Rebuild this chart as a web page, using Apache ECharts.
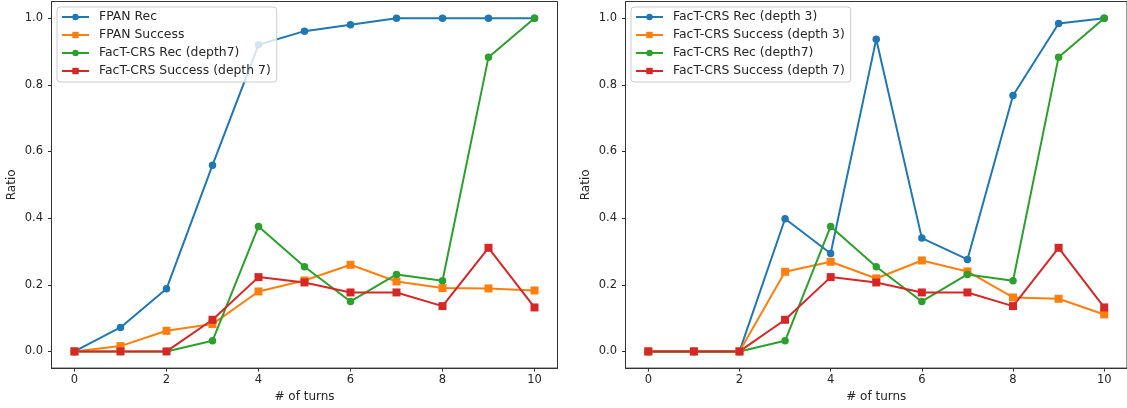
<!DOCTYPE html>
<html>
<head>
<meta charset="utf-8">
<script src="https://cdn.jsdelivr.net/npm/echarts@6/dist/echarts.min.js"></script>
<style>
html,body{margin:0;padding:0;background:#fff;}
#c{width:1127px;height:408px;}
</style>
</head>
<body>
<div id="c"></div>
<script>
var turns = [0,1,2,3,4,5,6,7,8,9,10];
var xTicks = [0,2,4,6,8,10];
var yTicks = [0,0.2,0.4,0.6,0.8,1.0];

var fpanRec = [0,0.072,0.188,0.559,0.920,0.961,0.980,1.0,1.0,1.0,1.0];
var fpanSuccess = [0,0.016,0.062,0.082,0.180,0.213,0.260,0.210,0.190,0.189,0.183];
var factRec7 = [0,0,0,0.032,0.375,0.254,0.150,0.231,0.212,0.883,1.0];
var factSuccess7 = [0,0,0,0.095,0.223,0.207,0.177,0.177,0.136,0.311,0.132];
var factRec3 = [0,0,0,0.398,0.294,0.937,0.340,0.276,0.768,0.984,1.0];
var factSuccess3 = [0,0,0,0.239,0.269,0.219,0.273,0.240,0.162,0.158,0.111];

var C_BLUE='#1f77b4', C_ORANGE='#ff7f0e', C_GREEN='#2ca02c', C_RED='#d62728';
var FONT='DejaVu Sans';
var TXT='#262626';

function pairs(arr){ return turns.map(function(t,i){ return [t, arr[i]]; }); }

function mkSeries(name, data, color, sym, idx){
  return {
    type:'line', name:name, data:pairs(data),
    xAxisIndex:idx, yAxisIndex:idx,
    symbol: sym, symbolSize: sym==='circle'?7.5:8,
    showSymbol:true,
    lineStyle:{color:color,width:2},
    itemStyle:{color:color},
    emphasis:{disabled:true},
    animation:false
  };
}

function mkX(idx){
  return {
    type:'value', gridIndex:idx, min:-0.5, max:10.5,
    name:'# of turns', nameLocation:'middle', nameGap:22,
    nameTextStyle:{fontFamily:FONT,fontSize:12,color:TXT},
    axisLine:{show:true,onZero:false,lineStyle:{color:'#333',width:1}},
    axisTick:{show:true,length:3.5,lineStyle:{color:'#333'},customValues:xTicks},
    axisLabel:{fontFamily:FONT,fontSize:11.5,color:TXT,margin:6,customValues:xTicks,
      formatter:function(v){return String(v);}},
    splitLine:{show:false}
  };
}
function mkY(idx){
  return {
    type:'value', gridIndex:idx, min:-0.05, max:1.05,
    name:'Ratio', nameLocation:'middle', nameGap:34,
    nameTextStyle:{fontFamily:FONT,fontSize:12,color:TXT},
    axisLine:{show:true,onZero:false,lineStyle:{color:'#333',width:1}},
    axisTick:{show:true,length:3.5,lineStyle:{color:'#333'},customValues:yTicks},
    axisLabel:{fontFamily:FONT,fontSize:11.5,color:TXT,margin:8.5,customValues:yTicks,
      formatter:function(v){return v.toFixed(1);}},
    splitLine:{show:false}
  };
}
function mkLegend(left, names){
  return {
    orient:'vertical', left:left, top:7,
    data:names,
    itemWidth:27, itemHeight:8, itemGap:4,
    padding:[3,6,4,4],
    backgroundColor:'rgba(255,255,255,0.8)',
    borderColor:'#cccccc', borderWidth:1, borderRadius:3,
    textStyle:{fontFamily:FONT,fontSize:12.4,color:TXT,lineHeight:14,padding:[0,0,0,5]},
    selectedMode:false
  };
}

var chart = echarts.init(document.getElementById('c'), null, {renderer:'canvas'});
chart.setOption({
  animation:false,
  backgroundColor:'#ffffff',
  grid:[
    {left:51.5, top:1.5, width:506, height:370.5, show:true, borderColor:'#333', borderWidth:1, backgroundColor:'transparent', containLabel:false},
    {left:625.5, top:1.5, width:506, height:370.5, show:true, borderColor:'#333', borderWidth:1, backgroundColor:'transparent', containLabel:false}
  ],
  xAxis:[mkX(0), mkX(1)],
  yAxis:[mkY(0), mkY(1)],
  legend:[
    mkLegend(57, ['FPAN Rec','FPAN Success','FacT-CRS Rec (depth7)','FacT-CRS Success (depth 7)']),
    mkLegend(631, ['FacT-CRS Rec (depth 3)','FacT-CRS Success (depth 3)','FacT-CRS Rec (depth7)','FacT-CRS Success (depth 7)'])
  ],
  series:[
    mkSeries('FPAN Rec', fpanRec, C_BLUE, 'circle', 0),
    mkSeries('FPAN Success', fpanSuccess, C_ORANGE, 'rect', 0),
    mkSeries('FacT-CRS Rec (depth7)', factRec7, C_GREEN, 'circle', 0),
    mkSeries('FacT-CRS Success (depth 7)', factSuccess7, C_RED, 'rect', 0),
    mkSeries('FacT-CRS Rec (depth 3)', factRec3, C_BLUE, 'circle', 1),
    mkSeries('FacT-CRS Success (depth 3)', factSuccess3, C_ORANGE, 'rect', 1),
    mkSeries('FacT-CRS Rec (depth7)', factRec7, C_GREEN, 'circle', 1),
    mkSeries('FacT-CRS Success (depth 7)', factSuccess7, C_RED, 'rect', 1)
  ]
});
</script>
</body>
</html>
